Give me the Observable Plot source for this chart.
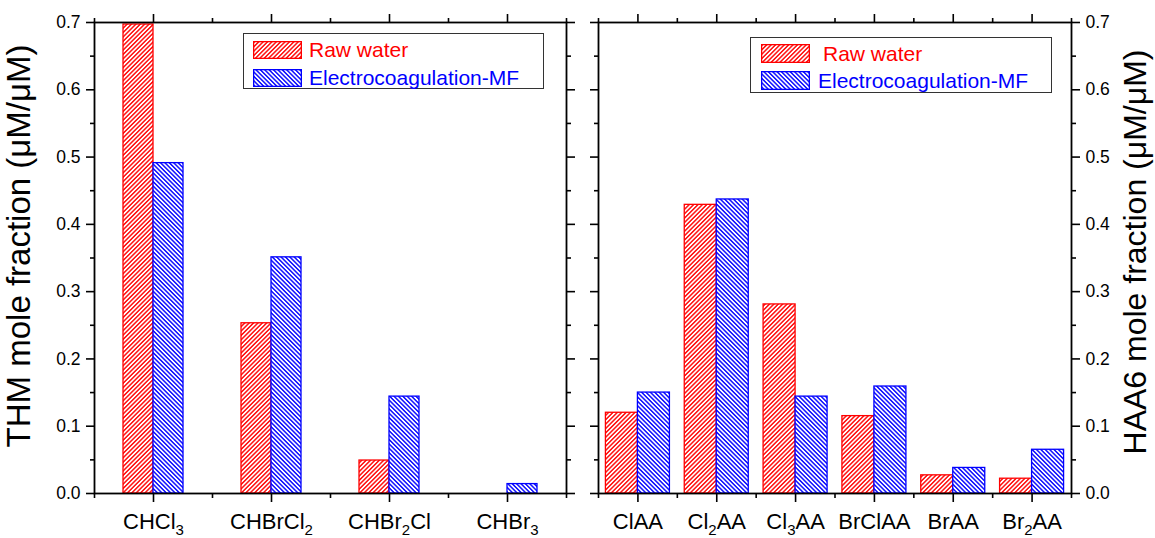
<!DOCTYPE html>
<html>
<head>
<meta charset="utf-8">
<script src="https://cdn.jsdelivr.net/npm/d3@7"></script>
<script src="https://cdn.jsdelivr.net/npm/@observablehq/plot@0.6"></script>
<style>
  body { margin: 0; background: #fff; font-family: "Liberation Sans", Arial, sans-serif; }
  #fig { position: relative; width: 1155px; height: 538px; overflow: hidden; background: #fff; }
  #fig > .panel { position: absolute; top: 0; }
  .legend { position: absolute; border: 1.4px solid #333; background: #fff; box-sizing: border-box; }
  .legend .row { position: absolute; display: flex; align-items: center; font-size: 21px; white-space: nowrap; line-height: 1; }
  .legend svg { display: block; flex: none; }
</style>
</head>
<body>
<!-- hatch fills shared by bars and legend swatches -->
<svg width="0" height="0" style="position:absolute">
  <defs>
    <pattern id="hatch-red" patternUnits="userSpaceOnUse" width="3.1" height="3.1" patternTransform="rotate(45)">
      <rect width="3.1" height="3.1" fill="#fff"></rect>
      <line x1="1.55" y1="-1" x2="1.55" y2="4.1" stroke="#ff0000" stroke-width="1.4"></line>
    </pattern>
    <pattern id="hatch-blue" patternUnits="userSpaceOnUse" width="3.1" height="3.1" patternTransform="rotate(-45)">
      <rect width="3.1" height="3.1" fill="#fff"></rect>
      <line x1="1.55" y1="-1" x2="1.55" y2="4.1" stroke="#0000ff" stroke-width="1.4"></line>
    </pattern>
  </defs>
</svg>
<div id="fig"></div>
<script>
// Trihalomethanes (left panel)
const thmCategories = ["CHCl3", "CHBrCl2", "CHBr2Cl", "CHBr3"];
const thmRawWater = [0.697, 0.253, 0.049, 0.0];
const thmElectroMF = [0.491, 0.351, 0.144, 0.014];

// Haloacetic acids (right panel)
const haaCategories = ["ClAA", "Cl2AA", "Cl3AA", "BrClAA", "BrAA", "Br2AA"];
const haaRawWater = [0.120, 0.429, 0.281, 0.115, 0.027, 0.022];
const haaElectroMF = [0.150, 0.437, 0.144, 0.159, 0.038, 0.065];

const seriesNames = ["Raw water", "Electrocoagulation-MF"];
const seriesStroke = ["#ff0000", "#0000ff"];
const seriesFill = ["url(#hatch-red)", "url(#hatch-blue)"];

const yTicks = [0.0, 0.1, 0.2, 0.3, 0.4, 0.5, 0.6, 0.7];
const yMinorTicks = [0.05, 0.15, 0.25, 0.35, 0.45, 0.55, 0.65];

const thmTitle = "THM mole fraction (\u03bcM/\u03bcM)";
const haaTitle = "HAA6 mole fraction (\u03bcM/\u03bcM)";

const FONT = '"Liberation Sans", Arial, sans-serif';
const H = 538, MT = 22, MB = 45;

function rowsFor(cats, raw, ec) {
  return cats.flatMap((c, i) => [
    {cat: c, series: seriesNames[0], value: raw[i]},
    {cat: c, series: seriesNames[1], value: ec[i]}
  ]);
}

// Render digits in category names as subscripts (CHCl3 -> CHCl with a lowered 3)
function subscriptDigits(svg, cats) {
  d3.select(svg).selectAll("text").each(function () {
    const s = this.textContent;
    if (!cats.includes(s)) return;
    const t = d3.select(this).text("");
    let shifted = false;
    for (const part of s.split(/(\d+)/).filter(Boolean)) {
      const span = t.append("tspan").text(part);
      if (/^\d+$/.test(part)) { span.attr("font-size", 15).attr("dy", 6); shifted = true; }
      else if (shifted) { span.attr("dy", -6); shifted = false; }
    }
  });
}

function makePanel({cats, raw, ec, width, ml, mr, pairWidth, labelSide, title, titleDx, titleDy, titleSize}) {
  const rows = rowsFor(cats, raw, ec);
  const step = (width - ml - mr) / cats.length;
  const pad = 1 - pairWidth / step;
  const half = pairWidth / 2;
  const blank = () => "";
  const tickStyle = {strokeWidth: 1.6, label: null};
  const otherSide = labelSide === "left" ? "right" : "left";

  const plot = Plot.plot({
    width, height: H,
    marginLeft: ml, marginRight: mr, marginTop: MT, marginBottom: MB,
    style: {fontFamily: FONT, fontSize: "17px", color: "#000", background: "transparent"},
    x: {domain: cats, paddingInner: pad, paddingOuter: pad / 2, round: false, label: null},
    y: {domain: [0, 0.7], label: null},
    color: {domain: seriesNames, range: seriesFill},
    marks: [
      Plot.barY(rows.filter(d => d.series === seriesNames[0]), {
        x: "cat", y: "value", fill: "series", stroke: seriesStroke[0], strokeWidth: 1.3, insetRight: half
      }),
      Plot.barY(rows.filter(d => d.series === seriesNames[1]), {
        x: "cat", y: "value", fill: "series", stroke: seriesStroke[1], strokeWidth: 1.3, insetLeft: half
      }),
      Plot.frame({stroke: "#000", strokeWidth: 1.8}),
      // value axis with labels, plus unlabeled ticks on the opposite side
      Plot.axisY({anchor: labelSide, ticks: yTicks, tickSize: 8, tickPadding: 6, tickFormat: d3.format(".1f"), fontSize: 17.5, ...tickStyle}),
      Plot.axisY({anchor: labelSide, ticks: yMinorTicks, tickSize: 4, tickFormat: blank, ...tickStyle}),
      Plot.axisY({anchor: otherSide, ticks: yTicks, tickSize: 8, tickFormat: blank, ...tickStyle}),
      Plot.axisY({anchor: otherSide, ticks: yMinorTicks, tickSize: 4, tickFormat: blank, ...tickStyle}),
      // category ticks top and bottom, minor ticks at band boundaries
      ...["top", "bottom"].flatMap(anchor => [
        Plot.axisX({anchor, ticks: cats, tickSize: 9, tickFormat: blank, ...tickStyle}),
        Plot.axisX({anchor, ticks: cats, tickSize: 5, dx: -step / 2, tickFormat: blank, ...tickStyle}),
        Plot.axisX({anchor, ticks: cats.slice(-1), tickSize: 5, dx: step / 2, tickFormat: blank, ...tickStyle})
      ]),
      Plot.text(cats, {x: d => d, text: d => d, frameAnchor: "bottom", dy: 20, lineAnchor: "top", fontSize: 22}),
      Plot.text([title], {frameAnchor: labelSide, dx: titleDx, dy: titleDy, rotate: -90, textAnchor: "middle", lineAnchor: "middle", fontSize: titleSize})
    ]
  });
  subscriptDigits(plot, cats);
  return plot;
}

function swatch(i, w, h) {
  return `<svg width="${w}" height="${h}"><rect x="0.65" y="0.65" width="${w - 1.3}" height="${h - 1.3}" fill="${seriesFill[i]}" stroke="${seriesStroke[i]}" stroke-width="1.3"></rect></svg>`;
}

function addLegend(fig, {left, top, width, height, rows}) {
  const box = document.createElement("div");
  box.className = "legend";
  Object.assign(box.style, {left: left + "px", top: top + "px", width: width + "px", height: height + "px"});
  rows.forEach((r, i) => {
    const row = document.createElement("div");
    row.className = "row";
    Object.assign(row.style, {left: r.x + "px", top: r.y + "px", color: seriesStroke[i]});
    row.innerHTML = swatch(i, r.w, r.h) + `<span style="margin-left:${r.gap}px">${seriesNames[i]}</span>`;
    box.appendChild(row);
  });
  fig.appendChild(box);
}

const fig = document.getElementById("fig");

const left = makePanel({
  cats: thmCategories, raw: thmRawWater, ec: thmElectroMF,
  width: 576, ml: 94, mr: 10, pairWidth: 60,
  labelSide: "left", title: thmTitle, titleDx: -75, titleDy: -12, titleSize: 33
});
left.classList.add("panel");
left.style.left = "0px";
fig.appendChild(left);

const right = makePanel({
  cats: haaCategories, raw: haaRawWater, ec: haaElectroMF,
  width: 579, ml: 22, mr: 84, pairWidth: 64,
  labelSide: "right", title: haaTitle, titleDx: 64, titleDy: -6, titleSize: 32
});
right.classList.add("panel");
right.style.left = "576px";
fig.appendChild(right);

addLegend(fig, {left: 243, top: 33, width: 301, height: 56, rows: [
  {x: 9, y: 5, w: 49, h: 18, gap: 7},
  {x: 9, y: 33, w: 49, h: 18, gap: 7}
]});
addLegend(fig, {left: 750, top: 37, width: 302, height: 56, rows: [
  {x: 10, y: 5, w: 49, h: 19, gap: 13},
  {x: 10, y: 32, w: 49, h: 19, gap: 8}
]});
</script>
</body>
</html>
